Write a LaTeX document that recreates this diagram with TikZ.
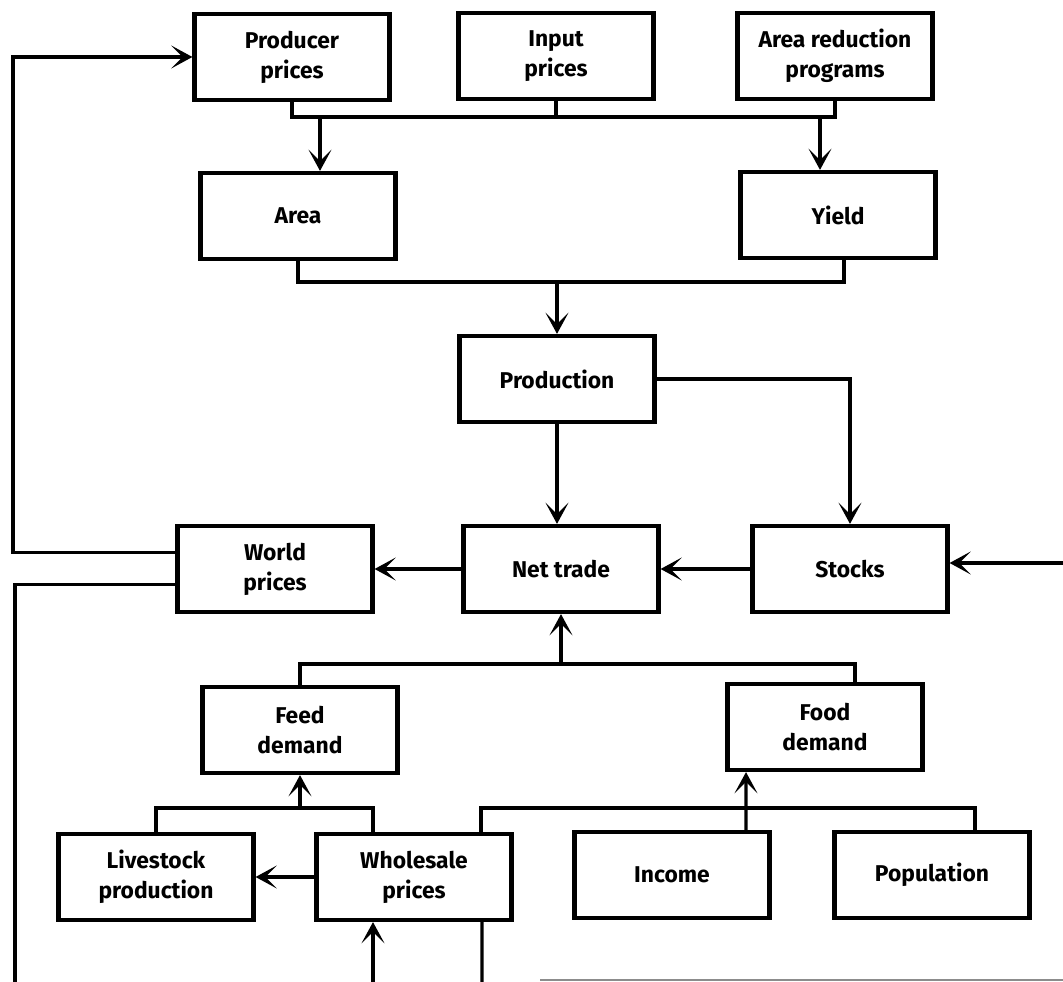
\documentclass[tikz,border=0pt]{standalone}
\usepackage{fontspec}
\setmainfont{Fira Sans}
\usetikzlibrary{arrows.meta}
\begin{document}
\begin{tikzpicture}[x=0.02cm,y=-0.02cm,
  box/.style={rectangle,draw=black,line width=2.4pt,minimum width=3.9cm,minimum height=1.72cm,
    align=center,font=\fontsize{13}{17}\selectfont\bfseries},
  wire/.style={line width=1.9pt},
  >={Stealth[length=12pt,width=13pt,inset=6.5pt]}]
\useasboundingbox (0,0) rectangle (1063,982);
\node[box] (PP) at (292,57) {Producer\\prices};
\node[box] (IP) at (556,56) {Input\\prices};
\node[box] (ARP) at (835,56) {Area reduction\\programs};
\node[box] (A) at (298,216) {Area};
\node[box] (Y) at (838,215) {Yield};
\node[box] (P) at (557,379) {Production};
\node[box] (WP) at (275,569) {World\\prices};
\node[box] (NT) at (561,569) {Net trade};
\node[box] (S) at (850,569) {Stocks};
\node[box] (FeD) at (300,730) {Feed\\demand};
\node[box] (FoD) at (825,727) {Food\\demand};
\node[box] (LP) at (156,877) {Livestock\\production};
\node[box] (WhP) at (414,877) {Wholesale\\prices};
\node[box] (I) at (672,875) {Income};
\node[box] (Pop) at (932,875) {Population};
% bus lines and loose ends
\coordinate (busA) at (0,117);
\coordinate (busB) at (0,282);
\coordinate (busC) at (0,664);
\coordinate (busD) at (0,808);
\coordinate (lfA) at (13,57);
\coordinate (lfB) at (15,982);
\coordinate (rin) at (1063,563);
\coordinate (wIn) at (373,982);
\coordinate (wOut) at (482,982);
% supply side
\draw[wire] (PP.south) -- (PP.south |- busA) -- (ARP.south |- busA) -- (ARP.south);
\draw[wire] (IP.south) -- (IP.south |- busA);
\draw[wire,->] ([xshift=0.44cm]A.north |- busA) -- ([xshift=0.44cm]A.north);
\draw[wire,->] ([xshift=-0.36cm]Y.north |- busA) -- ([xshift=-0.36cm]Y.north);
\draw[wire] (A.south) -- (A.south |- busB) -- ([xshift=0.12cm]Y.south |- busB) -- ([xshift=0.12cm]Y.south);
\draw[wire,->] (P.north |- busB) -- (P.north);
\draw[wire,->] (P.south) -- (P.south |- NT.north);
\draw[wire,->] (P.east) -| (S.north);
\draw[wire,->] (S.west) -- (NT.east);
\draw[wire,->] (NT.west) -- (WP.east);
\draw[wire,->] (rin) -- (rin -| S.east);
\draw[wire,->] ([yshift=0.33cm]WP.west) -| (lfA) -- (PP.west);
\draw[wire] ([yshift=-0.31cm]WP.west) -| (lfB);
% demand side
\draw[wire] (FeD.north) -- (FeD.north |- busC) -- ([xshift=0.6cm]FoD.north |- busC) -- ([xshift=0.6cm]FoD.north);
\draw[wire,->] (NT.south |- busC) -- (NT.south);
\draw[wire] (LP.north) -- (LP.north |- busD) -- ([xshift=-0.82cm]WhP.north |- busD) -- ([xshift=-0.82cm]WhP.north);
\draw[wire,->] (FeD.south |- busD) -- (FeD.south);
\draw[wire,->] (WhP.west) -- (WhP.west -| LP.east);
\draw[wire,->] (wIn) -- (wIn |- WhP.south);
\draw[wire] ([xshift=1.34cm]WhP.north) -- ([xshift=1.34cm]WhP.north |- busD) -- ([xshift=0.86cm]Pop.north |- busD) -- ([xshift=0.86cm]Pop.north);
\draw[wire,->] ([xshift=1.48cm]I.north) -- ([xshift=-1.58cm]FoD.south);
\draw[wire] ([xshift=1.36cm]WhP.south) -- (wOut);
\draw[line width=0.8pt,black!45] (540,980) -- (1063,980);
\end{tikzpicture}
\end{document}
